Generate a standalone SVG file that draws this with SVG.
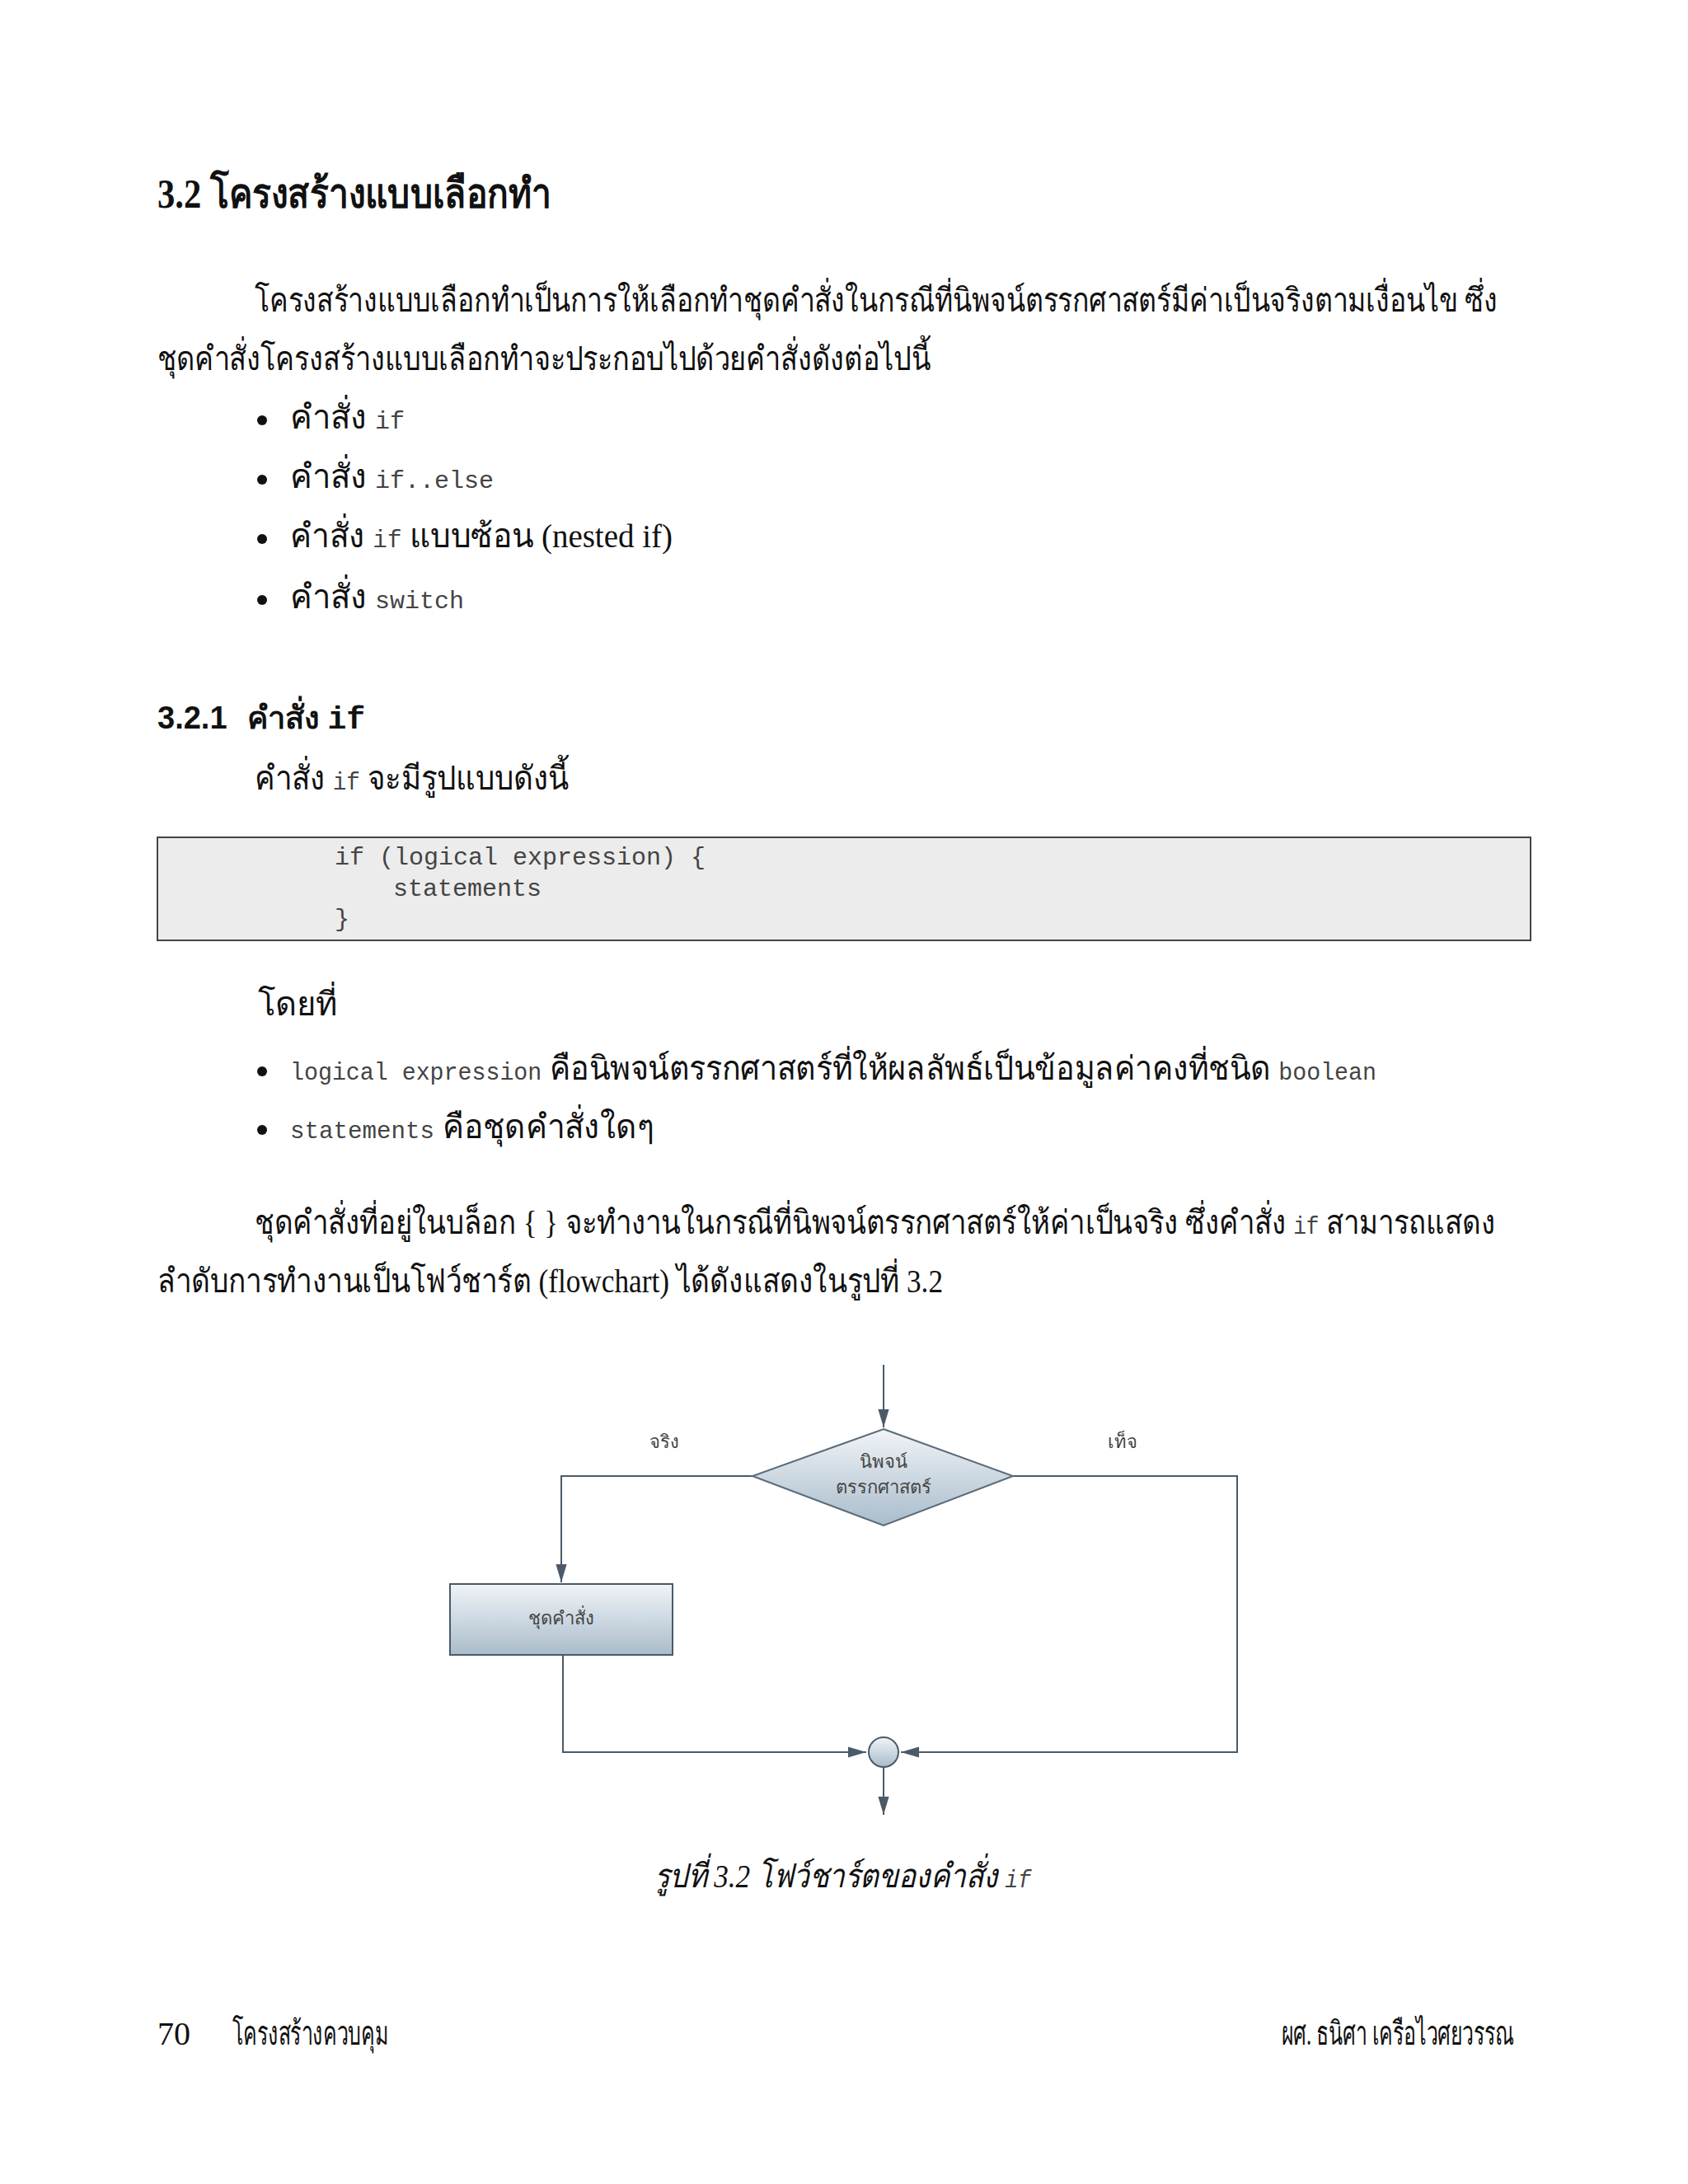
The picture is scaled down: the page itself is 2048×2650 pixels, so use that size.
<svg xmlns="http://www.w3.org/2000/svg" width="2048" height="2650" viewBox="0 0 2048 2650">
<style>
.t{font-family:"Liberation Serif","Noto Sans",serif;font-size:40px;fill:#111}
.m{font-family:"Liberation Mono","DejaVu Sans Mono",monospace;font-size:30px;fill:#444}
.h{font-family:"Liberation Serif","Noto Sans",serif;font-weight:bold;fill:#111}
.s{font-family:"Liberation Sans","Noto Sans",sans-serif;font-size:22px;fill:#444}
.ln{stroke:#4a5a68;stroke-width:2;fill:none}
</style>
<defs>
<linearGradient id="g" x1="0" y1="0" x2="0" y2="1"><stop offset="0" stop-color="#f1f4f7"/><stop offset="1" stop-color="#a9bccb"/></linearGradient>
<marker id="b" viewBox="0 0 10 10" refX="10" refY="5" markerWidth="22" markerHeight="22" markerUnits="userSpaceOnUse" orient="auto"><path d="M0,2L10,5L0,8z" fill="#4a5a68"/></marker>
</defs>
<rect width="2048" height="2650" fill="#fff"/>
<text class="h" x="191" y="252" font-size="50" textLength="478" lengthAdjust="spacingAndGlyphs">3.2 โครงสร้างแบบเลือกทำ</text>
<text class="t" x="309" y="378" textLength="1508" lengthAdjust="spacingAndGlyphs">โครงสร้างแบบเลือกทำเป็นการให้เลือกทำชุดคำสั่งในกรณีที่นิพจน์ตรรกศาสตร์มีค่าเป็นจริงตามเงื่อนไข ซึ่ง</text>
<text class="t" x="191" y="449" textLength="938" lengthAdjust="spacingAndGlyphs">ชุดคำสั่งโครงสร้างแบบเลือกทำจะประกอบไปด้วยคำสั่งดังต่อไปนี้</text>
<g class="t">
<circle cx="318" cy="510" r="6" fill="#111"/><text x="352" y="520">คำสั่ง <tspan class="m">if</tspan></text>
<circle cx="318" cy="582" r="6" fill="#111"/><text x="352" y="592">คำสั่ง <tspan class="m">if..else</tspan></text>
<circle cx="318" cy="654" r="6" fill="#111"/><text x="352" y="664" textLength="464" lengthAdjust="spacingAndGlyphs">คำสั่ง <tspan class="m">if</tspan> แบบซ้อน (nested if)</text>
<circle cx="318" cy="728" r="6" fill="#111"/><text x="352" y="738">คำสั่ง <tspan class="m">switch</tspan></text>
</g>
<text class="h" x="191" y="884" font-size="38"><tspan font-family="Liberation Sans">3.2.1</tspan><tspan x="300">คำสั่ง </tspan><tspan font-family="Liberation Mono">if</tspan></text>
<text class="t" x="309" y="958" textLength="381" lengthAdjust="spacingAndGlyphs">คำสั่ง <tspan class="m">if</tspan> จะมีรูปแบบดังนี้</text>
<rect x="191" y="1016" width="1666" height="125" fill="#ececec" stroke="#444" stroke-width="2"/>
<text class="m" x="406" y="1049">if (logical expression) {</text>
<text class="m" x="477" y="1087">statements</text>
<text class="m" x="406" y="1124">}</text>
<text class="t" x="313" y="1232">โดยที่</text>
<circle cx="318" cy="1300" r="6" fill="#111"/>
<text class="t" x="352" y="1310" textLength="1318" lengthAdjust="spacingAndGlyphs"><tspan class="m">logical expression</tspan> คือนิพจน์ตรรกศาสตร์ที่ให้ผลลัพธ์เป็นข้อมูลค่าคงที่ชนิด <tspan class="m">boolean</tspan></text>
<circle cx="318" cy="1371" r="6" fill="#111"/>
<text class="t" x="352" y="1381" textLength="441" lengthAdjust="spacingAndGlyphs"><tspan class="m">statements</tspan> คือชุดคำสั่งใดๆ</text>
<text class="t" x="309" y="1497" textLength="1505" lengthAdjust="spacingAndGlyphs">ชุดคำสั่งที่อยู่ในบล็อก { } จะทำงานในกรณีที่นิพจน์ตรรกศาสตร์ให้ค่าเป็นจริง ซึ่งคำสั่ง <tspan class="m">if</tspan> สามารถแสดง</text>
<text class="t" x="191" y="1568" textLength="953" lengthAdjust="spacingAndGlyphs">ลำดับการทำงานเป็นโฟว์ชาร์ต (flowchart) ได้ดังแสดงในรูปที่ 3.2</text>
<g id="connectors">
<line class="ln" x1="1072" y1="1656" x2="1072" y2="1732" marker-end="url(#b)"/>
<polyline class="ln" points="913,1791 681,1791 681,1920" marker-end="url(#b)"/>
<polyline class="ln" points="683,2008 683,2126 1051,2126" marker-end="url(#b)"/>
<polyline class="ln" points="1229,1791 1501,1791 1501,2126 1093,2126" marker-end="url(#b)"/>
<line class="ln" x1="1072" y1="2144" x2="1072" y2="2202" marker-end="url(#b)"/>
</g>
<g id="decision">
<polygon points="1072,1734 1229,1791 1072,1851 913,1791" fill="url(#g)" stroke="#5a6b7a" stroke-width="2"/>
<text class="s" x="1072" y="1781" text-anchor="middle">นิพจน์</text>
<text class="s" x="1072" y="1812" text-anchor="middle">ตรรกศาสตร์</text>
</g>
<g id="process">
<rect x="546" y="1922" width="270" height="86" fill="url(#g)" stroke="#4a5a68" stroke-width="2"/>
<text class="s" x="681" y="1971" text-anchor="middle">ชุดคำสั่ง</text>
</g>
<g id="merge"><ellipse cx="1072" cy="2126" rx="18" ry="18" fill="url(#g)" stroke="#4a5a68" stroke-width="2"/></g>
<text class="s" x="806" y="1757" text-anchor="middle">จริง</text>
<text class="s" x="1362" y="1757" text-anchor="middle">เท็จ</text>
<text class="t" x="794" y="2290" font-style="italic" textLength="457" lengthAdjust="spacingAndGlyphs">รูปที่ 3.2 โฟว์ชาร์ตของคำสั่ง <tspan class="m" font-style="italic">if</tspan></text>
<text class="t" x="191" y="2481" font-size="34">70</text>
<text class="t" x="282" y="2481" font-size="30" textLength="189" lengthAdjust="spacingAndGlyphs">โครงสร้างควบคุม</text>
<text class="t" x="1555" y="2481" font-size="30" textLength="282" lengthAdjust="spacingAndGlyphs">ผศ. ธนิศา เครือไวศยวรรณ</text>
</svg>
